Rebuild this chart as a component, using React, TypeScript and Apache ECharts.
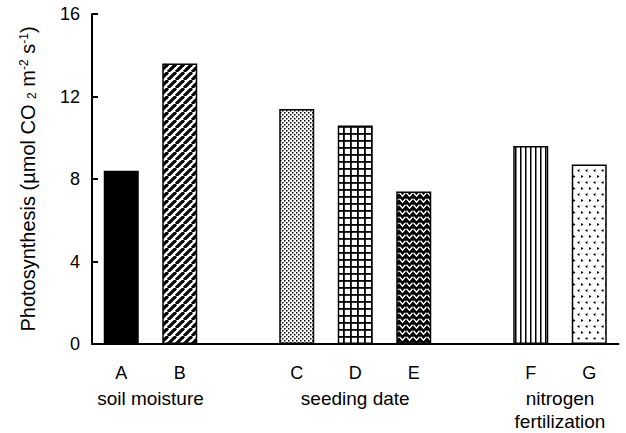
import React, { useEffect, useRef } from 'react';
import * as echarts from 'echarts';

const categories = ['A', 'B', '', 'C', 'D', 'E', '', 'F', 'G'];
const values: (number | null)[] = [8.4, 13.6, null, 11.4, 10.6, 7.4, null, 9.6, 8.7];
const fillKinds = ['solid', 'diagonal', 'none', 'dots', 'grid', 'herringbone', 'none', 'vertical', 'triangles'];
const groupLabels = ['soil moisture', 'seeding date', 'nitrogen\nfertilization'];
const groupCenters = [0.5, 4, 7.5];
const yMin = 0;
const yMax = 16;
const yInterval = 4;

const FONT = '"Liberation Sans", Arial, Helvetica, sans-serif';

function tile(w: number, h: number, bg: string, draw: (ctx: CanvasRenderingContext2D) => void) {
  const c = document.createElement('canvas');
  c.width = w;
  c.height = h;
  const ctx = c.getContext('2d') as CanvasRenderingContext2D;
  ctx.fillStyle = bg;
  ctx.fillRect(0, 0, w, h);
  draw(ctx);
  return { image: c.toDataURL(), repeat: 'repeat', imageWidth: w, imageHeight: h } as any;
}

function makeFill(kind: string): any {
  switch (kind) {
    case 'solid':
      return '#000';
    case 'diagonal':
      return tile(8, 8, '#fff', (ctx) => {
        ctx.strokeStyle = '#000';
        ctx.lineWidth = 3.2;
        for (const k of [-8, 0, 8]) {
          ctx.beginPath();
          ctx.moveTo(k, 8);
          ctx.lineTo(k + 8, 0);
          ctx.stroke();
        }
      });
    case 'dots':
      return tile(4, 4, '#fff', (ctx) => {
        ctx.fillStyle = '#000';
        ctx.fillRect(0, 0, 1.5, 1.5);
        ctx.fillRect(2, 2, 1.5, 1.5);
      });
    case 'grid':
      return tile(7, 7, '#fff', (ctx) => {
        ctx.fillStyle = '#000';
        ctx.fillRect(0, 0, 7, 1.8);
        ctx.fillRect(0, 0, 1.8, 7);
      });
    case 'herringbone':
      return tile(7, 6, '#000', (ctx) => {
        ctx.strokeStyle = '#fff';
        ctx.lineWidth = 1.4;
        ctx.beginPath();
        ctx.moveTo(0.5, 0.8);
        ctx.lineTo(3.5, 4.2);
        ctx.lineTo(6.5, 0.8);
        ctx.stroke();
      });
    case 'vertical':
      return tile(5, 5, '#fff', (ctx) => {
        ctx.fillStyle = '#000';
        ctx.fillRect(0, 0, 1.5, 5);
      });
    case 'triangles':
      return tile(8, 12, '#fff', (ctx) => {
        ctx.fillStyle = '#000';
        ctx.beginPath();
        ctx.moveTo(1, 2.5);
        ctx.lineTo(3.5, 1);
        ctx.lineTo(3.5, 4);
        ctx.closePath();
        ctx.fill();
        ctx.beginPath();
        ctx.moveTo(7.5, 8.5);
        ctx.lineTo(5, 7);
        ctx.lineTo(5, 10);
        ctx.closePath();
        ctx.fill();
      });
    default:
      return '#fff';
  }
}

export default function App() {
  const ref = useRef<HTMLDivElement>(null);
  useEffect(() => {
    if (!ref.current) return;
    const chart = echarts.init(ref.current, null, { renderer: 'svg' });
    const data = values.map((v, i) => ({
      value: v,
      itemStyle: { color: makeFill(fillKinds[i]), borderColor: '#000', borderWidth: 1.5 },
    }));
    chart.setOption({
      animation: false,
      backgroundColor: '#fff',
      grid: { left: 92, top: 14, right: 7.5, bottom: 86, containLabel: false },
      xAxis: [
        {
          type: 'category',
          data: categories,
          boundaryGap: true,
          axisLine: { show: true, onZero: false, lineStyle: { color: '#000', width: 2 } },
          axisTick: { show: false },
          axisLabel: { interval: 0, margin: 20, fontSize: 18, color: '#000', fontFamily: FONT },
          splitLine: { show: false },
        },
        {
          type: 'value',
          position: 'bottom',
          min: -0.5,
          max: 8.5,
          interval: 0.5,
          axisLine: { show: false, onZero: false },
          axisTick: { show: false },
          splitLine: { show: false },
          axisLabel: {
            margin: 43,
            fontSize: 19,
            lineHeight: 23,
            color: '#000',
            fontFamily: FONT,
            formatter: (v: number) => {
              const idx = groupCenters.findIndex((c) => Math.abs(c - v) < 1e-6);
              return idx >= 0 ? groupLabels[idx] : '';
            },
          },
        },
      ],
      yAxis: {
        type: 'value',
        min: yMin,
        max: yMax,
        interval: yInterval,
        axisLine: { show: true, onZero: false, lineStyle: { color: '#000', width: 2 } },
        axisTick: { show: true, inside: true, length: 6, lineStyle: { color: '#000', width: 2 } },
        axisLabel: { margin: 12, fontSize: 18, color: '#000', fontFamily: FONT },
        splitLine: { show: false },
        name: 'Photosynthesis (µmol CO {sub|2} m{sup|-2} s{sup|-1})',
        nameLocation: 'middle',
        nameGap: 54,
        nameTextStyle: {
          fontSize: 20,
          lineHeight: 20,
          color: '#000',
          fontFamily: FONT,
          rich: {
            sup: { fontSize: 12, lineHeight: 12, verticalAlign: 'top', color: '#000', fontFamily: FONT },
            sub: { fontSize: 12, lineHeight: 12, verticalAlign: 'bottom', color: '#000', fontFamily: FONT },
          },
        },
      },
      series: [
        {
          type: 'bar',
          xAxisIndex: 0,
          yAxisIndex: 0,
          barWidth: 35,
          data,
        },
      ],
    });
    return () => chart.dispose();
  }, []);
  return <div ref={ref} style={{ position: 'fixed', left: 0, top: 0, width: 626, height: 433 }} />;
}
